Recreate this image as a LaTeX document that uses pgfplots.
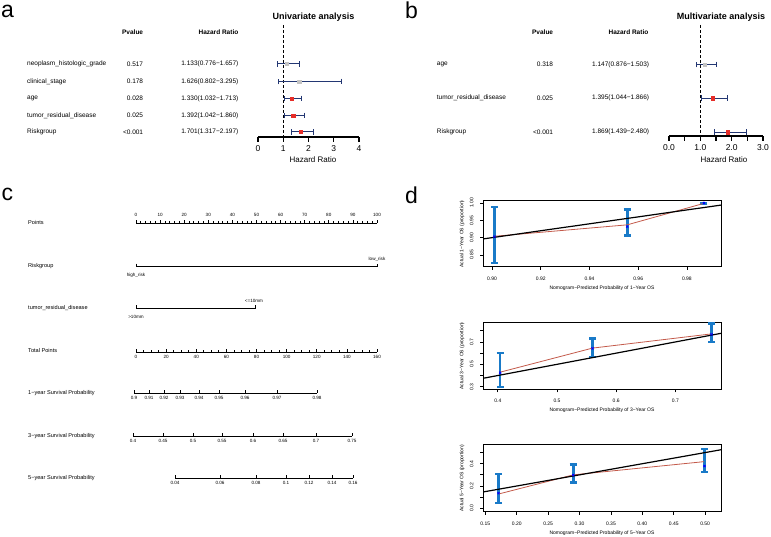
\documentclass[border=0pt]{standalone}
\usepackage{fontspec}
\setmainfont{Liberation Sans}
\usepackage{pgfplots}
\pgfplotsset{compat=1.18}
\definecolor{navyb}{RGB}{35,55,115}
\definecolor{redm}{RGB}{230,45,40}
\definecolor{greym}{RGB}{195,195,195}
\definecolor{cbar}{RGB}{25,122,200}
\definecolor{cred}{RGB}{195,90,75}
\newcommand\fs[1]{\fontsize{#1}{#1}\selectfont}
\pgfplotsset{
  forest/.style={scale only axis, anchor=south west, axis x line*=bottom, axis y line=none, ytick=\empty,
    xtick align=outside, major tick length=5pt, x axis line style={line width=1.2pt},
    xtick style={line width=1.2pt, black}, xticklabel style={font=\fs{8.5}},
    /pgf/number format/assume math mode=true, clip=false, enlargelimits=false},
  fmark/.style={only marks, mark=square*, mark size=1.7pt,
    error bars/.cd, x dir=both, x explicit,
    error bar style={navyb, line width=1pt, solid},
    error mark options={navyb, line width=1pt, mark size=2.8pt, rotate=90}},
  nomo/.style={scale only axis, height=4pt, ymin=0, ymax=1, axis y line=none, ytick=\empty,
    x axis line style={line width=0.75pt}, xtick style={line width=0.7pt, black},
    major tick length=2.5pt, minor tick length=2pt, xticklabel style={font=\fs{4.6}},
    /pgf/number format/assume math mode=true, clip=false, enlargelimits=false},
  calib/.style={scale only axis, anchor=south west, width=238pt, axis line style={line width=1pt},
    tick style={black, line width=0.8pt}, tick align=outside, xtick pos=left, ytick pos=left,
    major tick length=3pt, tick label style={font=\fs{5}},
    yticklabel style={rotate=90, anchor=south}, yticklabel shift=3pt, xticklabel shift=3.5pt,
    label style={font=\fs{5}}, xlabel style={at={(axis description cs:0.5,-0.318)}, anchor=center},
    ylabel style={at={(axis description cs:-0.0882,0.5)}, anchor=center},
    /pgf/number format/assume math mode=true, enlargelimits=false, clip=true},
  ebar/.style={cbar, only marks, mark=square*, mark size=0.01pt,
    error bars/.cd, y dir=both, y explicit,
    error bar style={cbar, line width=2.6pt, solid},
    error mark options={cbar, line width=2.4pt, mark size=3.5pt, rotate=90}},
  redl/.style={cred, line width=0.8pt, mark=none},
  idl/.style={black, line width=1.2pt, mark=none},
  bx/.style={only marks, mark=x, mark size=1.4pt, blue, line width=0.9pt},
}
\begin{document}
\begin{tikzpicture}[x=1pt,y=1pt]
\useasboundingbox (0,0) rectangle (771,537);

% ---------------- panel a forest
\begin{axis}[forest, at={(258pt,400pt)}, width=101pt, height=112pt,
  xmin=0, xmax=4, ymin=-137, ymax=-25, xtick={0,1,2,3,4}]
\addplot[black, line width=0.9pt, dash pattern=on 3pt off 2pt] coordinates {(1,-25) (1,-137)};
\addplot[greym, fmark] coordinates {(1.133,-64) += (0.524,0) -= (0.357,0)
  (1.626,-81.5) += (1.669,0) -= (0.824,0)};
\addplot[redm, fmark] coordinates {(1.330,-98.5) += (0.383,0) -= (0.298,0)
  (1.392,-115.5) += (0.468,0) -= (0.350,0)
  (1.701,-132) += (0.496,0) -= (0.384,0)};
\end{axis}

% ---------------- panel b forest
\begin{axis}[forest, at={(669pt,401pt)}, width=94pt, height=111pt,
  xmin=0, xmax=3, ymin=-136, ymax=-25, xtick={0,0.5,1,1.5,2,2.5,3},
  xticklabels={0.0,,1.0,,2.0,,3.0}]
\addplot[black, line width=0.9pt, dash pattern=on 3pt off 2pt] coordinates {(1,-25) (1,-136)};
\addplot[greym, fmark] coordinates {(1.147,-64.5) += (0.356,0) -= (0.271,0)};
\addplot[redm, fmark] coordinates {(1.395,-98.3) += (0.471,0) -= (0.351,0)
  (1.869,-132.3) += (0.611,0) -= (0.430,0)};
\end{axis}

% ---------------- panel c nomogram scales
\begin{axis}[nomo, at={(136pt,314pt)}, anchor=north west, width=241pt, xmin=0, xmax=100,
  axis x line*=top, xtick align=outside, xtick={0,10,...,100}, minor x tick num=4]
\addplot[draw=none] coordinates {(0,0.5)};
\end{axis}
\begin{axis}[nomo, at={(136pt,185pt)}, anchor=south west, width=241pt, xmin=0, xmax=160,
  axis x line*=bottom, xtick align=inside, xtick={0,20,...,160}, minor x tick num=3]
\addplot[draw=none] coordinates {(0,0.5)};
\end{axis}
\begin{axis}[nomo, at={(134pt,144pt)}, anchor=south west, width=183pt, xmin=134, xmax=317,
  axis x line*=bottom, xtick align=inside, xtick={134,149,164,180,199,219,245,277,317},
  xticklabels={0.9,0.91,0.92,0.93,0.94,0.95,0.96,0.97,0.98}]
\addplot[draw=none] coordinates {(134,0.5)};
\end{axis}
\begin{axis}[nomo, at={(133pt,101pt)}, anchor=south west, width=219pt, xmin=133, xmax=352,
  axis x line*=bottom, xtick align=inside, xtick={133,163,193,222,253,283,316,352},
  xticklabels={0.4,0.45,0.5,0.55,0.6,0.65,0.7,0.75}]
\addplot[draw=none] coordinates {(133,0.5)};
\end{axis}
\begin{axis}[nomo, at={(175pt,59pt)}, anchor=south west, width=178pt, xmin=175, xmax=353,
  axis x line*=bottom, xtick align=inside, xtick={175,220,256,286,309,332,353},
  xticklabels={0.04,0.06,0.08,0.1,0.12,0.14,0.16}]
\addplot[draw=none] coordinates {(175,0.5)};
\end{axis}
\begin{axis}[at={(0pt,0pt)}, anchor=south west, scale only axis, width=771pt, height=537pt,
  xmin=0, xmax=771, ymin=-537, ymax=0, hide axis, clip=false]
\addplot[black, line width=0.75pt] coordinates {(136,-263.7) (136,-266.7) (377,-266.7) (377,-263.7)};
\addplot[black, line width=0.75pt] coordinates {(136,-305.3) (136,-308.3) (255,-308.3) (255,-305.3)};
\end{axis}

% ---------------- panel d calibration
\begin{axis}[calib, at={(483pt,270pt)}, height=66pt,
  xmin=0.8963, xmax=0.9940, ymin=0.8154, ymax=1.0058,
  xtick={0.90,0.92,0.94,0.96,0.98}, xticklabels={0.90,0.92,0.94,0.96,0.98},
  ytick={0.85,0.90,0.95,1.00}, yticklabels={0.85,0.90,0.95,1.00},
  xlabel={Nomogram−Predicted Probability of 1−Year OS},
  ylabel={Actual 1−Year OS (proportion)}]
\addplot[ebar] coordinates {(0.901,0.904) += (0,0.084) -= (0,0.077)
  (0.9555,0.937) += (0,0.044) -= (0,0.031) (0.987,0.9995) += (0,0.001) -= (0,0.001)};
\addplot[redl] coordinates {(0.901,0.904) (0.9555,0.937) (0.987,0.999)};
\addplot[idl] coordinates {(0.8963,0.8963) (0.994,0.994)};
\addplot[bx] coordinates {(0.901,0.903) (0.9555,0.932) (0.987,1.0)};
\end{axis}
\begin{axis}[calib, at={(483pt,147.7pt)}, height=66.6pt,
  xmin=0.375, xmax=0.777, ymin=0.277, ymax=0.872,
  xtick={0.4,0.5,0.6,0.7}, xticklabels={0.4,0.5,0.6,0.7},
  ytick={0.3,0.4,0.5,0.6,0.7,0.8}, yticklabels={0.3,,0.5,,0.7,},
  xlabel={Nomogram−Predicted Probability of 3−Year OS},
  ylabel={Actual 3−Year OS (proportion)}]
\addplot[ebar] coordinates {(0.404,0.43) += (0,0.173) -= (0,0.135)
  (0.56,0.645) += (0,0.086) -= (0,0.078) (0.761,0.772) += (0,0.091) -= (0,0.073)};
\addplot[redl] coordinates {(0.404,0.43) (0.56,0.645) (0.761,0.772)};
\addplot[idl] coordinates {(0.375,0.375) (0.777,0.777)};
\addplot[bx] coordinates {(0.404,0.425) (0.56,0.642) (0.761,0.767)};
\end{axis}
\begin{axis}[calib, at={(483pt,25.3pt)}, height=66.7pt,
  xmin=0.1463, xmax=0.5253, ymin=-0.0305, ymax=0.568,
  xtick={0.15,0.20,0.25,0.30,0.35,0.40,0.45,0.50},
  xticklabels={0.15,0.20,0.25,0.30,0.35,0.40,0.45,0.50},
  ytick={0,0.1,0.2,0.3,0.4,0.5}, yticklabels={0.0,,0.2,,0.4,},
  xlabel={Nomogram−Predicted Probability of 5−Year OS},
  ylabel={Actual 5−Year OS (proportion)}]
\addplot[ebar] coordinates {(0.171,0.128) += (0,0.179) -= (0,0.078)
  (0.29,0.30) += (0,0.094) -= (0,0.07) (0.499,0.419) += (0,0.115) -= (0,0.091)};
\addplot[redl] coordinates {(0.171,0.128) (0.29,0.30) (0.499,0.419)};
\addplot[idl] coordinates {(0.1463,0.1463) (0.5253,0.5253)};
\addplot[bx] coordinates {(0.171,0.135) (0.29,0.298) (0.499,0.379)};
\end{axis}

% ---------------- texts
\begin{scope}[every node/.style={inner sep=0pt}]
\node[anchor=base west, font=\fs{23}] at (1,537-18) {a};
\node[anchor=base west, font=\fs{23}] at (405,537-18.3) {b};
\node[anchor=base west, font=\fs{23}] at (1.5,537-200.7) {c};
\node[anchor=base west, font=\fs{23}] at (405,537-203.3) {d};
% panel a
\node[font=\fs{9}\bfseries] at (313.5,537-17) {Univariate analysis};
\node[anchor=east, font=\fs{6.5}\bfseries] at (143.3,537-32) {Pvalue};
\node[anchor=east, font=\fs{6.5}\bfseries] at (238.5,537-32) {Hazard Ratio};
\begin{scope}[every node/.append style={font=\fs{6.5}}]
\node[anchor=west] at (27,537-64) {neoplasm\_histologic\_grade};
\node[anchor=west] at (27,537-81.5) {clinical\_stage};
\node[anchor=west] at (27,537-98.5) {age};
\node[anchor=west] at (27,537-115.5) {tumor\_residual\_disease};
\node[anchor=west] at (27,537-132) {Riskgroup};
\node[anchor=east] at (143.3,537-64) {0.517};
\node[anchor=east] at (143.3,537-81.5) {0.178};
\node[anchor=east] at (143.3,537-98.5) {0.028};
\node[anchor=east] at (143.3,537-115.5) {0.025};
\node[anchor=east] at (143.3,537-132) {<0.001};
\node[anchor=east] at (238.5,537-64) {1.133(0.776−1.657)};
\node[anchor=east] at (238.5,537-81.5) {1.626(0.802−3.295)};
\node[anchor=east] at (238.5,537-98.5) {1.330(1.032−1.713)};
\node[anchor=east] at (238.5,537-115.5) {1.392(1.042−1.860)};
\node[anchor=east] at (238.5,537-132) {1.701(1.317−2.197)};
% panel b
\node[anchor=west] at (436.7,537-64.5) {age};
\node[anchor=west] at (436.7,537-98.3) {tumor\_residual\_disease};
\node[anchor=west] at (436.7,537-132.3) {Riskgroup};
\node[anchor=east] at (553.3,537-64.5) {0.318};
\node[anchor=east] at (553.3,537-98.3) {0.025};
\node[anchor=east] at (553.3,537-132.3) {<0.001};
\node[anchor=east] at (649.3,537-64.5) {1.147(0.876−1.503)};
\node[anchor=east] at (649.3,537-98.3) {1.395(1.044−1.866)};
\node[anchor=east] at (649.3,537-132.3) {1.869(1.439−2.480)};
\end{scope}
\node[font=\fs{8}] at (313,537-160) {Hazard Ratio};
\node[font=\fs{9}\bfseries] at (721,537-17) {Multivariate analysis};
\node[anchor=east, font=\fs{6.5}\bfseries] at (553.3,537-32) {Pvalue};
\node[anchor=east, font=\fs{6.5}\bfseries] at (648.5,537-32) {Hazard Ratio};
\node[font=\fs{8}] at (724,537-160) {Hazard Ratio};
% panel c
\begin{scope}[every node/.append style={font=\fs{5.6}, anchor=west}]
\node at (28,537-223) {Points};
\node at (28,537-266) {Riskgroup};
\node at (28,537-308.3) {tumor\_residual\_disease};
\node at (28,537-351) {Total Points};
\node at (28,537-393.3) {1−year Survival Probability};
\node at (28,537-435.7) {3−year Survival Probability};
\node at (28,537-477.7) {5−year Survival Probability};
\end{scope}
\begin{scope}[every node/.append style={font=\fs{4.6}}]
\node at (377,537-259) {low\_risk};
\node at (136,537-275) {high\_risk};
\node at (254,537-301) {<=10mm};
\node at (136,537-316.7) {>10mm};
\end{scope}
\end{scope}
\end{tikzpicture}
\end{document}
